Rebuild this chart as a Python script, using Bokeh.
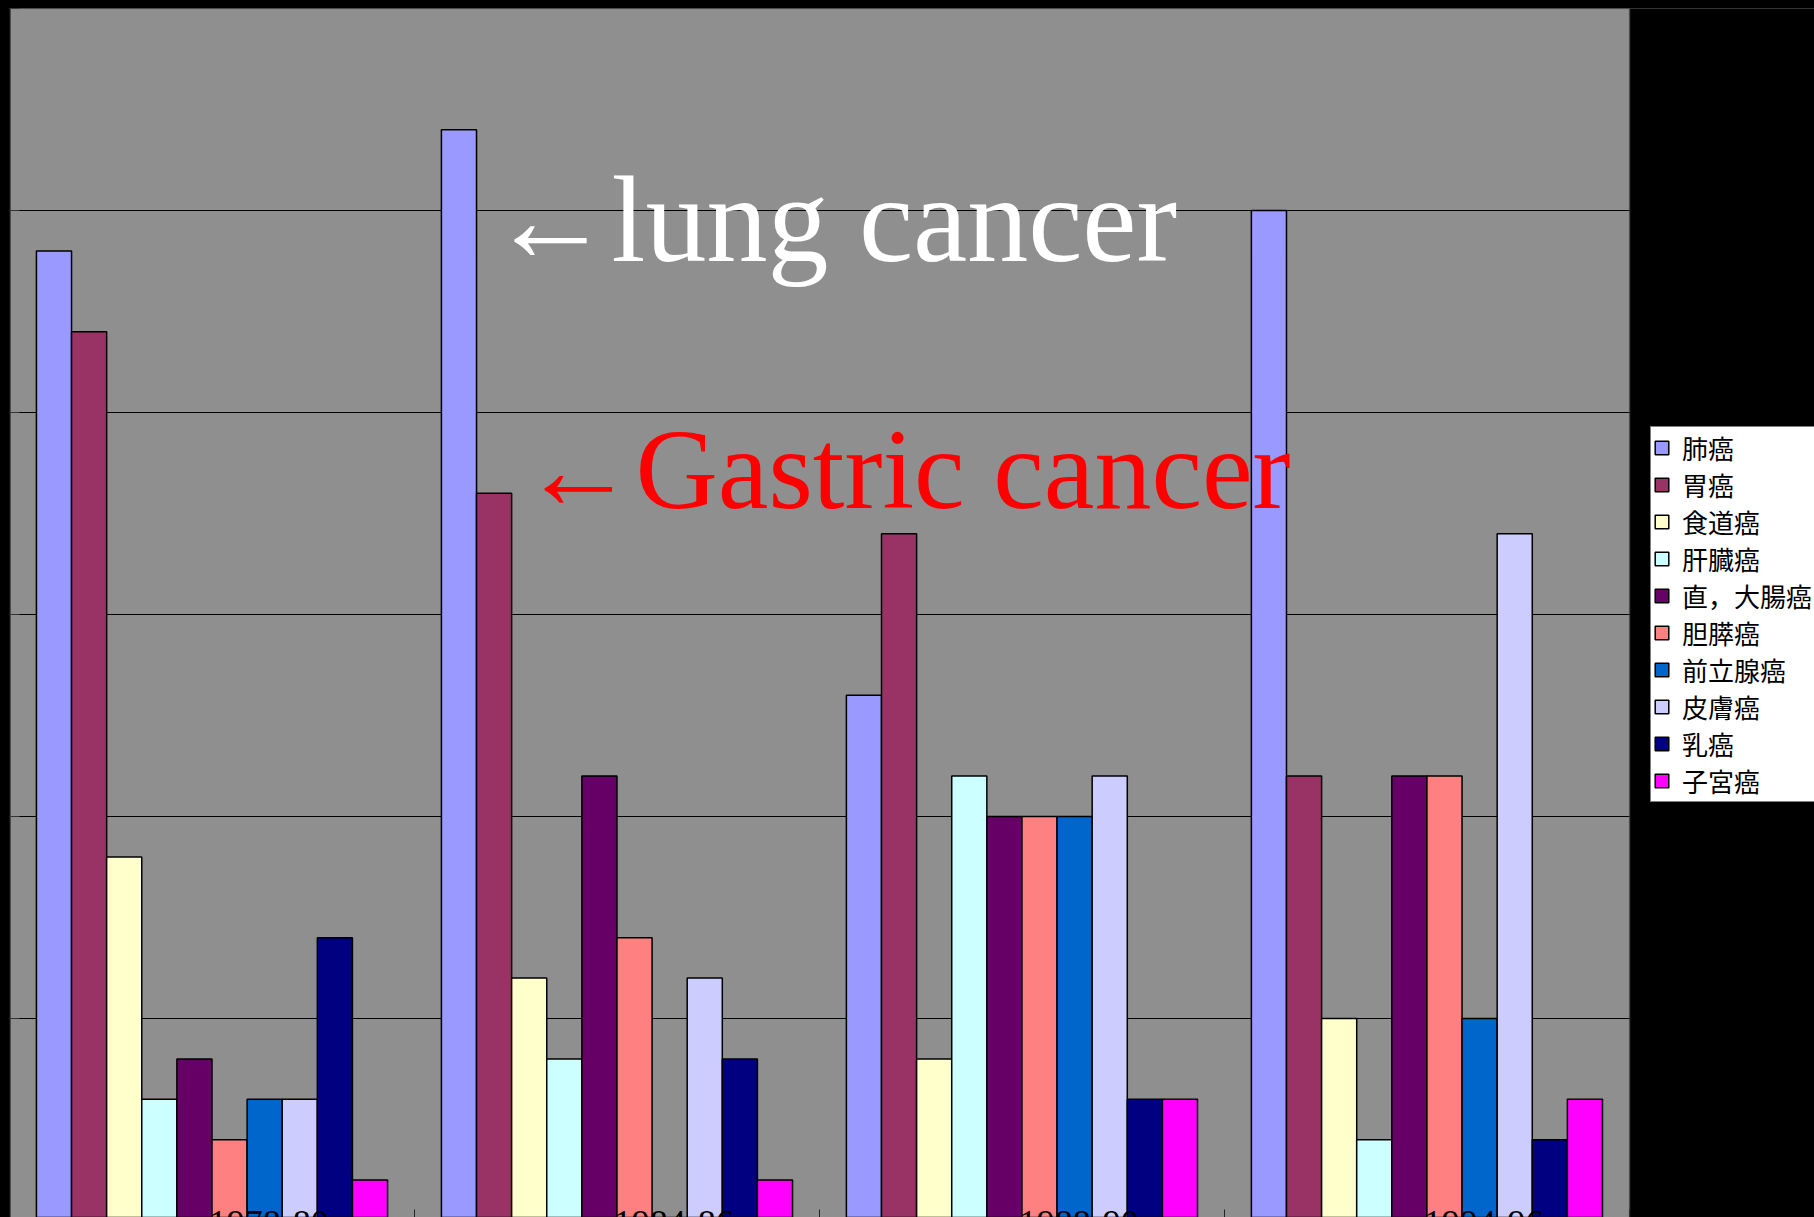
from bokeh.plotting import figure
from bokeh.models import (Range1d, Legend, LegendItem, Label, LabelSet, BoxAnnotation,
                          ColumnDataSource, FixedTicker, LinearAxis)
from bokeh.embed import file_html
from bokeh.resources import INLINE

# ---- data ----
periods = ["1978-80", "1984-86", "1988-90", "1994-96"]
series_names = ["肺癌", "胃癌", "食道癌", "肝臓癌", "直，大腸癌",
                "胆膵癌", "前立腺癌", "皮膚癌", "乳癌", "子宮癌"]
lung = [24, 27, 13, 25]
gastric = [22, 18, 17, 11]
esophageal = [9, 6, 4, 5]
liver = [3, 4, 11, 2]
colorectal = [4, 11, 10, 11]
biliary_pancreatic = [2, 7, 10, 11]
prostate = [3, 0, 10, 5]
skin = [3, 6, 11, 17]
breast = [7, 4, 3, 2]
uterine = [1, 1, 3, 3]
series_values = [lung, gastric, esophageal, liver, colorectal,
                 biliary_pancreatic, prostate, skin, breast, uterine]
colors = ["#9999FF", "#993366", "#FFFFCC", "#CCFFFF", "#660066",
          "#FF8080", "#0066CC", "#CCCCFF", "#000080", "#FF00FF"]
y_ticks = [0, 5, 10, 15, 20, 25, 30]

n_cat = len(periods)
n_ser = len(series_names)
bw = 0.0867            # bar width in category units
legend_room = 0.457    # extra x room (category units) right of the plot area

# ---- figure ----
p = figure(x_range=Range1d(0, n_cat + legend_room), y_range=Range1d(0.074, 30),
           width=1814, height=1217, output_backend="svg", toolbar_location=None,
           x_axis_location=None, y_axis_location="left",
           min_border_left=9, min_border_right=0, min_border_top=8, min_border_bottom=0,
           background_fill_color="#8F8F8F", border_fill_color="black",
           outline_line_color=None)

p.xgrid.visible = False
p.ygrid.ticker = FixedTicker(ticks=y_ticks)
p.ygrid.grid_line_color = "black"
p.ygrid.grid_line_width = 1

ax = p.yaxis[0]
ax.ticker = FixedTicker(ticks=y_ticks)
ax.axis_line_color = "black"
ax.axis_line_width = 2
ax.major_tick_in = 10
ax.major_tick_out = 0
ax.minor_tick_line_color = None
ax.major_tick_line_color = "#333333"
ax.major_label_text_font_size = "1px"
ax.major_label_text_color = None
ax.major_label_standoff = 0

# category-boundary tick marks along the bottom
xax = LinearAxis(ticker=FixedTicker(ticks=list(range(1, n_cat + 1))),
                 axis_line_color=None, major_tick_in=8, major_tick_out=0,
                 major_tick_line_color="#222222", major_tick_line_width=1,
                 minor_tick_line_color=None, major_label_text_font_size="1px",
                 major_label_text_color=None, major_label_standoff=0)
p.add_layout(xax, "below")

centers = [k + 0.5 for k in range(n_cat)]
items = []
for i, (name, vals, col) in enumerate(zip(series_names, series_values, colors)):
    xs = [c + (i - (n_ser - 1) / 2) * bw for c in centers]
    src = ColumnDataSource(dict(x=xs, v=vals, period=periods))
    r = p.vbar(x="x", top="v", bottom=0, width=bw, fill_color=col,
               line_color="black", line_width=1.5, source=src)
    items.append(LegendItem(label=name, renderers=[r]))

# black area to the right of the plot area (legend side)
p.add_layout(BoxAnnotation(left=n_cat, fill_color="black", fill_alpha=1.0,
                           line_color=None))
# plot-area border
p.add_layout(BoxAnnotation(left=0, right=n_cat, top=30, bottom=-5, fill_alpha=0,
                           fill_color=None, line_color="#707070", line_width=2))

legend = Legend(items=items, location=(1641, 415),
                background_fill_color="white", background_fill_alpha=1.0,
                border_line_color="black", border_line_width=1,
                label_text_font="Noto Sans CJK JP", label_text_font_size="26px",
                label_text_color="black", glyph_width=17, glyph_height=17,
                label_height=37, spacing=0, padding=2, margin=0, label_standoff=12)
p.add_layout(legend, "center")

p.add_layout(Label(x=480, y=998, x_units="screen", y_units="screen",
                   text="←lung cancer", text_color="white",
                   text_font="Liberation Serif", text_font_size="122px",
                   text_baseline="alphabetic"))
p.add_layout(Label(x=512, y=748, x_units="screen", y_units="screen",
                   text="←Gastric cancer", text_color="red",
                   text_font="Liberation Serif", text_font_size="114px",
                   text_baseline="alphabetic"))

cat_src = ColumnDataSource(dict(x=[c + 0.14 for c in centers], period=periods))
p.add_layout(LabelSet(x="x", y=7, y_units="screen",
                      text="period", source=cat_src, text_baseline="top",
                      text_align="center", text_font="Liberation Sans",
                      text_font_size="36px", text_color="black"))

html = file_html(p, INLINE, title="cancer chart")
html = html.replace("</head>", "<style>body{background:#000000;}</style></head>", 1)
open("out.html", "w").write(html)
